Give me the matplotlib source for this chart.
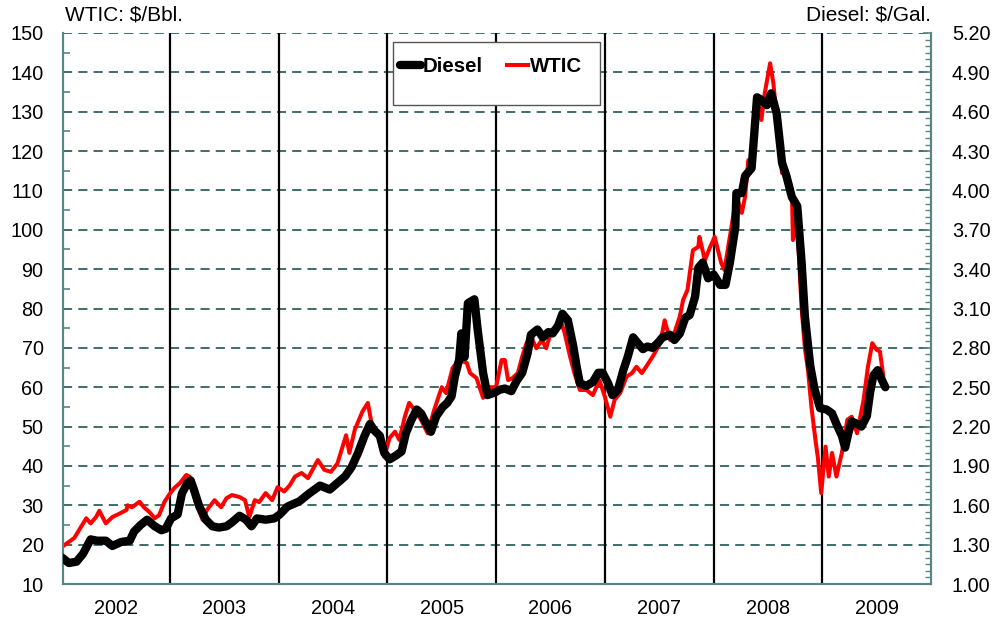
import matplotlib
matplotlib.use("Agg")
import matplotlib.pyplot as plt
from matplotlib.patches import Rectangle
from matplotlib.lines import Line2D
from matplotlib.ticker import MultipleLocator, FixedLocator, NullFormatter

plt.rcParams['font.family'] = ['Liberation Sans', 'DejaVu Sans']

# ---- data (fractional year, value) ----
wtic_t = [2002.01, 2002.12, 2002.23, 2002.27, 2002.32, 2002.35, 2002.41, 2002.47, 2002.53, 2002.60,
          2002.61, 2002.65, 2002.72, 2002.76, 2002.81, 2002.86, 2002.90, 2002.95, 2002.99, 2003.04,
          2003.09, 2003.15, 2003.18, 2003.21, 2003.24, 2003.30, 2003.34, 2003.41, 2003.47, 2003.52,
          2003.57, 2003.64, 2003.69, 2003.73, 2003.78, 2003.82, 2003.88, 2003.94, 2003.99, 2004.05,
          2004.10, 2004.15, 2004.21, 2004.27, 2004.36, 2004.42, 2004.48, 2004.54, 2004.62, 2004.65,
          2004.70, 2004.77, 2004.82, 2004.86, 2004.91, 2004.97, 2005.02, 2005.07, 2005.11, 2005.16,
          2005.20, 2005.25, 2005.31, 2005.37, 2005.43, 2005.50, 2005.54, 2005.60, 2005.66, 2005.73,
          2005.76, 2005.82, 2005.88, 2005.94, 2006.00, 2006.05, 2006.08, 2006.11, 2006.15, 2006.20,
          2006.24, 2006.28, 2006.32, 2006.37, 2006.42, 2006.46, 2006.51, 2006.56, 2006.60, 2006.63,
          2006.68, 2006.72, 2006.77, 2006.83, 2006.89, 2006.95, 2007.00, 2007.05, 2007.09, 2007.14,
          2007.20, 2007.25, 2007.29, 2007.34, 2007.38, 2007.44, 2007.51, 2007.55, 2007.60, 2007.64,
          2007.69, 2007.72, 2007.76, 2007.81, 2007.86, 2007.87, 2007.92, 2007.97, 2008.01, 2008.07,
          2008.10, 2008.15, 2008.17, 2008.21, 2008.26, 2008.29, 2008.32, 2008.35, 2008.40, 2008.44,
          2008.47, 2008.52, 2008.55, 2008.58, 2008.63, 2008.67, 2008.72, 2008.73, 2008.75, 2008.78,
          2008.81, 2008.84, 2008.87, 2008.90, 2008.94, 2008.96, 2008.99, 2009.03, 2009.06, 2009.09,
          2009.13, 2009.18, 2009.23, 2009.27, 2009.32, 2009.38, 2009.42, 2009.46, 2009.50, 2009.53,
          2009.56]
wtic_v = [19.5, 21.7, 26.7, 25.4, 27.0, 28.6, 25.4, 27.0, 27.8, 28.8,
          30.0, 29.5, 30.9, 29.5, 28.3, 26.7, 27.5, 30.9, 32.6, 34.4,
          35.6, 37.7, 37.3, 34.0, 30.6, 26.3, 28.8, 31.3, 29.5, 31.8,
          32.6, 32.1, 31.3, 27.0, 31.3, 30.8, 33.1, 31.3, 34.6, 33.5,
          35.0, 37.3, 38.2, 36.9, 41.5, 39.0, 38.5, 40.6, 47.8, 43.3,
          49.2, 53.8, 56.0, 50.0, 48.7, 42.3, 47.1, 48.7, 46.6, 52.5,
          56.0, 54.2, 51.7, 48.3, 54.2, 60.0, 58.5, 64.9, 66.9, 66.2,
          63.6, 62.3, 57.3, 60.0, 60.0, 66.9, 66.9, 61.8, 62.3, 63.6,
          67.8, 71.2, 72.8, 69.9, 72.0, 69.9, 74.5, 75.4, 76.3, 73.8,
          67.8, 63.6, 59.3, 59.3, 58.0, 61.8, 57.6, 52.5, 56.8, 58.5,
          62.7, 63.6, 65.2, 63.6, 65.2, 67.8, 71.2, 77.0, 72.0, 73.8,
          78.0, 82.2, 84.7, 94.8, 95.7, 98.2, 92.3, 95.7, 98.2, 91.6,
          89.8, 98.2, 101.7, 108.4, 104.3, 108.4, 117.7, 116.1, 133.5, 127.9,
          134.6, 142.3, 137.3, 128.7, 114.4, 115.2, 110.1, 97.4, 105.0, 96.0,
          80.0, 70.0, 64.0, 55.0, 46.0, 42.0, 33.1, 44.9, 37.3, 43.3,
          37.3, 43.3, 51.7, 52.5, 48.3, 56.8, 65.2, 71.2, 69.5, 69.1,
          63.1]

diesel_t = [2002.01, 2002.07, 2002.14, 2002.20, 2002.27, 2002.33, 2002.41, 2002.47, 2002.55, 2002.63,
            2002.67, 2002.73, 2002.79, 2002.86, 2002.92, 2002.96, 2003.01, 2003.07, 2003.11, 2003.16,
            2003.19, 2003.22, 2003.27, 2003.33, 2003.39, 2003.45, 2003.52, 2003.57, 2003.64, 2003.70,
            2003.75, 2003.80, 2003.88, 2003.96, 2004.01, 2004.08, 2004.19, 2004.28, 2004.38, 2004.47,
            2004.54, 2004.61, 2004.67, 2004.73, 2004.79, 2004.84, 2004.88, 2004.93, 2004.97, 2005.02,
            2005.08, 2005.13, 2005.17, 2005.22, 2005.27, 2005.31, 2005.36, 2005.40, 2005.45, 2005.51,
            2005.55, 2005.59, 2005.62, 2005.66, 2005.68, 2005.71, 2005.74, 2005.80, 2005.83, 2005.88,
            2005.92, 2005.99, 2006.03, 2006.08, 2006.14, 2006.19, 2006.24, 2006.29, 2006.32, 2006.38,
            2006.43, 2006.48, 2006.52, 2006.57, 2006.61, 2006.66, 2006.71, 2006.74, 2006.77, 2006.83,
            2006.89, 2006.94, 2006.98, 2007.03, 2007.07, 2007.12, 2007.17, 2007.21, 2007.26, 2007.30,
            2007.35, 2007.39, 2007.44, 2007.49, 2007.53, 2007.60, 2007.64, 2007.69, 2007.74, 2007.78,
            2007.83, 2007.86, 2007.90, 2007.95, 2008.00, 2008.06, 2008.11, 2008.15, 2008.20, 2008.21,
            2008.26, 2008.29, 2008.35, 2008.40, 2008.44, 2008.49, 2008.53, 2008.58, 2008.63, 2008.67,
            2008.72, 2008.77, 2008.81, 2008.84, 2008.89, 2008.93, 2008.98, 2009.04, 2009.09, 2009.13,
            2009.18, 2009.21, 2009.24, 2009.27, 2009.32, 2009.36, 2009.41, 2009.44, 2009.47, 2009.51,
            2009.54, 2009.58]
diesel_v = [1.20, 1.16, 1.17, 1.23, 1.34, 1.33, 1.33, 1.29, 1.32, 1.33,
            1.40, 1.45, 1.49, 1.44, 1.41, 1.42, 1.50, 1.53, 1.69, 1.77,
            1.79, 1.72, 1.59, 1.49, 1.44, 1.43, 1.44, 1.47, 1.52, 1.49,
            1.44, 1.50, 1.49, 1.50, 1.53, 1.59, 1.63, 1.69, 1.75, 1.72,
            1.77, 1.82, 1.89, 2.00, 2.13, 2.22, 2.17, 2.13, 2.00, 1.95,
            1.98, 2.01, 2.15, 2.25, 2.33, 2.30, 2.22, 2.16, 2.28, 2.35,
            2.38, 2.43, 2.58, 2.71, 2.91, 2.73, 3.14, 3.17, 2.94, 2.61,
            2.44, 2.46, 2.48, 2.49, 2.47, 2.55, 2.61, 2.76, 2.90, 2.94,
            2.88, 2.92, 2.91, 2.97, 3.06, 3.01, 2.81, 2.66, 2.53, 2.51,
            2.54, 2.61, 2.61, 2.53, 2.44, 2.48, 2.63, 2.73, 2.88, 2.84,
            2.79, 2.81, 2.80, 2.84, 2.88, 2.90, 2.86, 2.91, 3.03, 3.05,
            3.19, 3.41, 3.45, 3.33, 3.36, 3.28, 3.28, 3.45, 3.72, 3.98,
            3.98, 4.11, 4.17, 4.71, 4.69, 4.65, 4.74, 4.59, 4.21, 4.11,
            3.95, 3.88, 3.45, 3.04, 2.66, 2.48, 2.34, 2.33, 2.30, 2.22,
            2.13, 2.04, 2.15, 2.24, 2.22, 2.20, 2.28, 2.46, 2.59, 2.63,
            2.57, 2.50]

years = [2002, 2003, 2004, 2005, 2006, 2007, 2008, 2009]
year_bounds = [2003, 2004, 2005, 2006, 2007, 2008, 2009]
left_ticks = [10, 20, 30, 40, 50, 60, 70, 80, 90, 100, 110, 120, 130, 140, 150]
right_ticks = [1.00, 1.30, 1.60, 1.90, 2.20, 2.50, 2.80, 3.10, 3.40, 3.70, 4.00, 4.30, 4.60, 4.90, 5.20]

spine_col = '#5a8585'
grid_col = '#0d4545'
FS = 14.3

fig = plt.figure(figsize=(9.97, 6.2), dpi=100)
AXL, AXR, AXT, AXB = 63, 931, 33, 584
ax = fig.add_axes([AXL/997, 1-AXB/620, (AXR-AXL)/997, (AXB-AXT)/620])
ax2 = ax.twinx()

ax.set_xlim(2002.016, 2010.0)
ax.set_ylim(10, 150)
ax2.set_ylim(1.00, 5.20)

# gridlines
for v in left_ticks[1:]:
    ax.axhline(v, color=grid_col, lw=1.1, ls=(0, (6, 4)), zorder=1)
for b in year_bounds:
    ax.axvline(b, color='black', lw=1.6, zorder=2)

ax.plot(wtic_t, wtic_v, color='#ff0000', lw=2.9, zorder=3, solid_joinstyle='round')
ax2.plot(diesel_t, diesel_v, color='black', lw=6.0, zorder=4, solid_joinstyle='round',
         solid_capstyle='round')
ax2.set_zorder(ax.get_zorder() + 1)
ax2.patch.set_visible(False)

# axes ticks
ax.yaxis.set_major_locator(FixedLocator(left_ticks))
ax.yaxis.set_minor_locator(MultipleLocator(5))
ax.set_yticklabels([str(v) for v in left_ticks], fontsize=FS)
ax.tick_params(axis='y', which='major', direction='in', length=0, pad=14, colors='black')
ax.tick_params(axis='y', which='minor', direction='in', length=5, color=spine_col, width=1.2)

ax2.yaxis.set_major_locator(FixedLocator(right_ticks))
ax2.yaxis.set_minor_locator(MultipleLocator(0.05))
ax2.set_yticklabels(['%.2f' % v for v in right_ticks], fontsize=FS)
ax2.tick_params(axis='y', which='major', direction='in', length=6, pad=15, color=spine_col, width=1.2)
ax2.tick_params(axis='y', which='minor', direction='in', length=4, color=spine_col, width=1.0)

ax.xaxis.set_major_locator(FixedLocator(year_bounds))
ax.xaxis.set_major_formatter(NullFormatter())
ax.xaxis.set_minor_locator(FixedLocator([y + 0.5 for y in years]))
ax.set_xticklabels([str(y) for y in years], minor=True, fontsize=FS)
ax.tick_params(axis='x', which='both', length=0, pad=11)

for a in (ax, ax2):
    a.spines['top'].set_visible(False)
    for s in ('left', 'right', 'bottom'):
        a.spines[s].set_color(spine_col)
        a.spines[s].set_linewidth(1.5)

# axis titles
fig.text(65/997, 1-15/620, 'WTIC: $/Bbl.', fontsize=15, ha='left', va='center')
fig.text(931/997, 1-15/620, 'Diesel: $/Gal.', fontsize=15, ha='right', va='center')

# legend box
W, H = AXR - AXL, AXB - AXT
x0 = (393-AXL)/W; x1 = (600-AXL)/W
y1 = (AXB-42)/H; y0 = (AXB-105)/H
ax2.add_patch(Rectangle((x0, y0), x1-x0, y1-y0, transform=ax2.transAxes, facecolor='white',
                        edgecolor='#555555', lw=1.0, zorder=10))
handles = [Line2D([], [], color='black', lw=6.0, solid_capstyle='round'),
           Line2D([], [], color='#ff0000', lw=2.9)]
leg = ax2.legend(handles, ['Diesel', 'WTIC'], loc='upper left',
                 bbox_to_anchor=((384-AXL)/W, (AXB-41)/H),
                 bbox_transform=ax2.transAxes, ncol=2, frameon=False, handlelength=1.0,
                 handletextpad=0.1, columnspacing=1.2, borderpad=0.3,
                 prop={'weight': 'bold', 'size': 14.7})
leg.set_zorder(11)

fig.savefig('out.png', dpi=100)
